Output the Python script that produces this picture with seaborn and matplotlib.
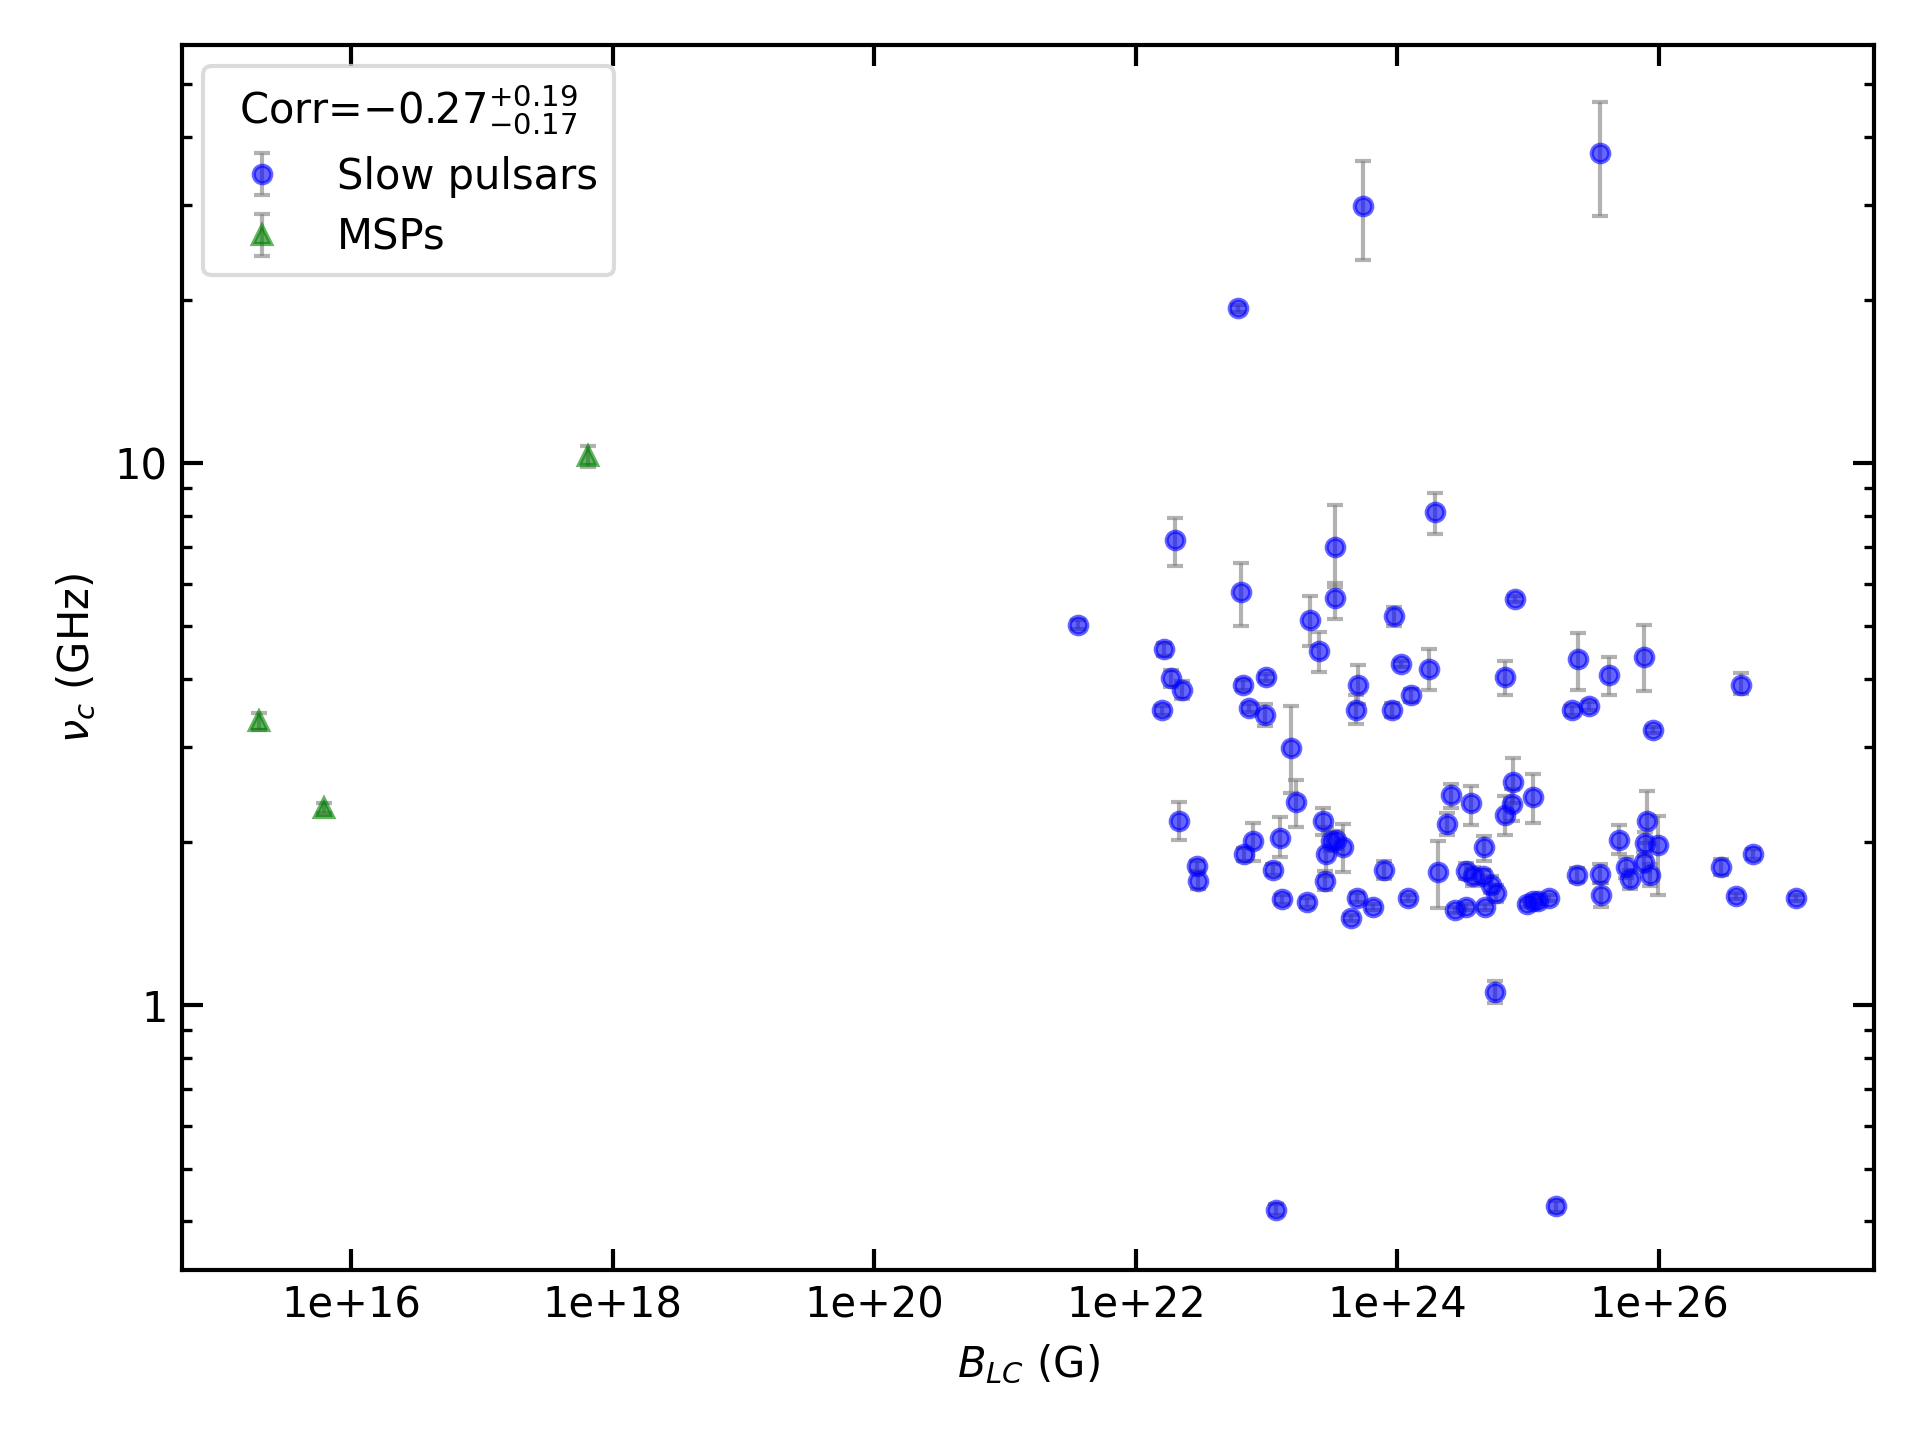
import numpy as np
import matplotlib
matplotlib.use("Agg")
import matplotlib.pyplot as plt
import matplotlib.ticker as mticker
import seaborn as sns

# slow pulsars: light-cylinder field (G), turnover frequency (GHz), asymmetric errors
b_slow = [3.56e25, 5.45e23, 6.05e22, 1.94e24, 3.32e23, 3.32e23, 3.6e21, 1.63e22,
          1.59e22, 1.85e22, 2.25e22, 1.98e22, 2.15e22, 2.91e22, 2.97e22, 6.32e22,
          6.6e22, 7.35e22, 9.9e22, 9.7e22, 6.75e22, 7.84e22, 1.11e23, 1.26e23,
          1.31e23, 1.18e23, 1.53e23, 1.67e23, 2.02e23, 2.16e23, 2.51e23, 2.67e23,
          2.79e23, 2.85e23, 3.11e23, 3.39e23, 3.86e23, 4.40e23, 4.79e23, 5.0e23,
          4.89e23, 6.47e23, 7.85e23, 9.33e23, 9.14e23, 1.06e24, 1.26e24, 1.21e24,
          1.74e24, 2.03e24, 2.41e24, 2.57e24, 2.74e24, 3.33e24, 3.33e24, 3.63e24,
          3.78e24, 4.50e24, 4.59e24, 4.70e24, 5.23e24, 5.70e24, 5.58e24, 6.62e24,
          6.62e24, 7.53e24, 7.70e24, 7.87e24, 9.77e24, 1.09e25, 1.09e25, 1.19e25,
          1.44e25, 1.64e25, 2.17e25, 2.36e25, 2.41e25, 2.93e25, 3.56e25, 3.63e25,
          4.13e25, 4.91e25, 5.59e25, 5.96e25, 7.71e25, 7.71e25, 8.05e25, 7.87e25,
          8.59e25, 8.98e25, 9.80e25, 3.0e26, 3.88e26, 4.23e26, 5.25e26, 1.12e27]
nu_slow = [37.4, 29.8, 19.3, 8.12, 7.02, 5.65, 5.04, 4.54,
           3.50, 4.01, 3.82, 7.21, 2.19, 1.81, 1.70, 5.80,
           3.90, 3.54, 4.03, 3.43, 1.90, 2.01, 1.78, 2.04,
           1.57, 0.42, 2.99, 2.37, 1.55, 5.14, 4.51, 2.19,
           1.70, 1.90, 2.01, 2.02, 1.96, 1.45, 3.50, 3.90,
           1.58, 1.52, 1.78, 5.22, 3.51, 4.26, 3.73, 1.58,
           4.18, 1.76, 2.16, 2.44, 1.50, 1.77, 1.52, 2.36,
           1.73, 1.73, 1.96, 1.52, 1.67, 1.61, 1.06, 4.03,
           2.25, 2.35, 2.58, 5.62, 1.54, 2.42, 1.56, 1.56,
           1.58, 0.426, 3.50, 1.74, 4.35, 3.57, 1.75, 1.60,
           4.07, 2.02, 1.80, 1.71, 4.40, 1.84, 2.19, 1.99,
           1.74, 3.22, 1.98, 1.80, 1.59, 3.90, 1.90, 1.58]
err_lo_slow = [8.8, 6.1, 0.3, 0.7, 1.1, 0.48, 0.1, 0.12,
               0.06, 0.15, 0.15, 0.75, 0.17, 0.04, 0.06, 0.79,
               0.08, 0.06, 0.06, 0.16, 0.05, 0.16, 0.04, 0.16,
               0.03, 0.01, 0.52, 0.24, 0.03, 0.53, 0.38, 0.13,
               0.07, 0.17, 0.08, 0.08, 0.2, 0.02, 0.19, 0.31,
               0.03, 0.02, 0.07, 0.22, 0.1, 0.05, 0.1, 0.02,
               0.36, 0.25, 0.1, 0.13, 0.02, 0.06, 0.02, 0.21,
               0.07, 0.05, 0.11, 0.02, 0.06, 0.06, 0.05, 0.29,
               0.19, 0.16, 0.22, 0.08, 0.02, 0.25, 0.02, 0.02,
               0.02, 0.01, 0.07, 0.05, 0.53, 0.06, 0.07, 0.08,
               0.33, 0.12, 0.08, 0.07, 0.60, 0.08, 0.2, 0.1,
               0.08, 0.04, 0.38, 0.06, 0.02, 0.15, 0.04, 0.02]
err_hi_slow = [9.0, 6.3, 0.3, 0.7, 1.36, 0.36, 0.1, 0.12,
               0.06, 0.15, 0.15, 0.70, 0.18, 0.04, 0.06, 0.76,
               0.08, 0.06, 0.06, 0.16, 0.05, 0.16, 0.04, 0.19,
               0.03, 0.01, 0.57, 0.23, 0.03, 0.56, 0.37, 0.12,
               0.07, 0.23, 0.08, 0.08, 0.2, 0.02, 0.23, 0.34,
               0.03, 0.02, 0.07, 0.22, 0.1, 0.05, 0.1, 0.02,
               0.36, 0.25, 0.1, 0.12, 0.02, 0.06, 0.02, 0.18,
               0.07, 0.05, 0.09, 0.02, 0.06, 0.06, 0.05, 0.28,
               0.18, 0.16, 0.28, 0.08, 0.02, 0.25, 0.02, 0.02,
               0.02, 0.01, 0.07, 0.05, 0.51, 0.06, 0.07, 0.08,
               0.33, 0.13, 0.08, 0.07, 0.64, 0.08, 0.3, 0.1,
               0.08, 0.04, 0.26, 0.06, 0.02, 0.2, 0.04, 0.02]

# millisecond pulsars
b_msp = [1.95e15, 6.2e15, 6.5e17]
nu_msp = [3.34, 2.31, 10.3]
err_msp = [0.12, 0.05, 0.45]

legend_title = r"Corr=$-0.27^{+0.19}_{-0.17}$"

sns.set_style("white")
plt.rcParams['font.family'] = ['DejaVu Sans']
plt.rcParams['text.color'] = 'black'
plt.rcParams['axes.labelcolor'] = 'black'
plt.rcParams['xtick.color'] = 'black'
plt.rcParams['ytick.color'] = 'black'

fig, ax = plt.subplots(figsize=(6.4, 4.8), dpi=300)

ax.errorbar(b_slow, nu_slow, yerr=[err_lo_slow, err_hi_slow], fmt='o', color='blue',
            ecolor='gray', alpha=0.6, markersize=4.2, capsize=2, elinewidth=1,
            label='Slow pulsars')
ax.errorbar(b_msp, nu_msp, yerr=err_msp, fmt='^', color='green',
            ecolor='gray', alpha=0.6, markersize=4.2, capsize=2, elinewidth=1,
            label='MSPs')

ax.set_xscale('log')
ax.set_yscale('log')
ax.set_xlim(5.1e14, 4.4e27)
ax.set_ylim(0.325, 59)

ax.set_xticks([1e16, 1e18, 1e20, 1e22, 1e24, 1e26])
ax.xaxis.set_major_formatter(mticker.FuncFormatter(lambda v, p: '%.0e' % v))
ax.xaxis.set_minor_locator(mticker.NullLocator())
ax.yaxis.set_major_formatter(mticker.FuncFormatter(lambda v, p: '%g' % v))
ax.yaxis.set_minor_formatter(mticker.NullFormatter())

ax.tick_params(which='both', direction='in', top=True, right=True, left=True, bottom=True)
ax.tick_params(which='major', length=5, width=1, labelsize=10)
ax.tick_params(which='minor', length=2.5, width=0.8)
for s in ax.spines.values():
    s.set_color('black')
    s.set_linewidth(1)

ax.set_xlabel(r'$B_{LC}$ (G)', fontsize=10)
ax.set_ylabel(r'$\nu_c$ (GHz)', fontsize=10)

leg = ax.legend(title=legend_title, loc='upper left', fontsize=10, title_fontsize=10,
                frameon=True, labelspacing=0.45)
leg.get_frame().set_edgecolor('lightgray')

fig.subplots_adjust(left=0.095, right=0.976, top=0.9685, bottom=0.118)
fig.savefig('out.png', dpi=300)
